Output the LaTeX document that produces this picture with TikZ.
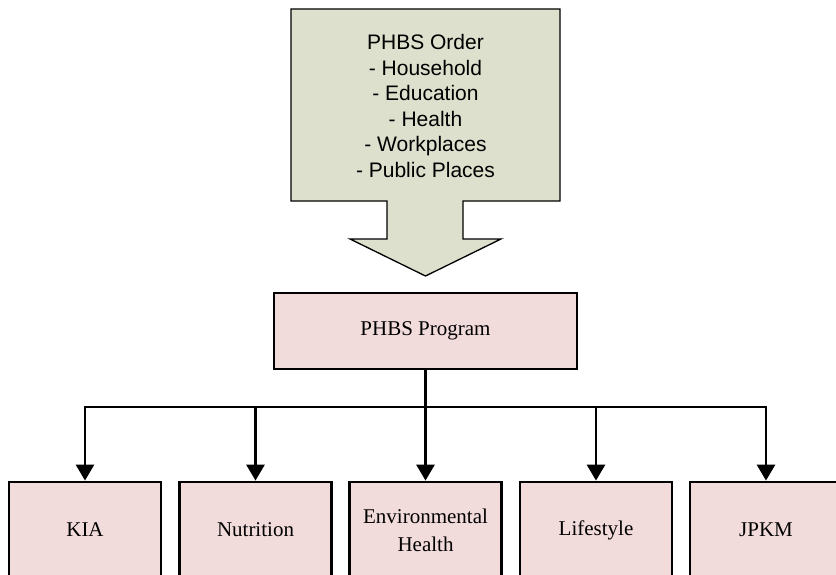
\documentclass[tikz,border=0pt]{standalone}
\usepackage{fontspec}
\setmainfont{Liberation Serif}
\newfontfamily\arialfont{Liberation Sans}
\usetikzlibrary{arrows.meta}
\definecolor{ordergreen}{RGB}{221,224,204}
\definecolor{progpink}{RGB}{242,220,219}
\begin{document}
\begin{tikzpicture}[x=1pt,y=-1pt,
  pbox/.style={draw=black, line width=2.8pt, fill=progpink, minimum width=152pt,
    minimum height=96pt, inner sep=0pt, align=center,
    font=\fontsize{21}{28}\selectfont},
  conn/.style={line width=2.8pt},
  arr/.style={conn, -{Triangle[width=18pt,length=16pt]}},
  ordertext/.style={align=center, font=\arialfont\fontsize{21}{25.5}\selectfont}]
\useasboundingbox (0,0) rectangle (836,574);
\clip (0,0) rectangle (836,574);
% big green block arrow
\draw[fill=ordergreen, line width=1.3pt, line join=miter]
  (291,9) -- (560,9) -- (560,201) -- (463,201) -- (463,239) -- (501,239)
  -- (425.5,276) -- (350,239) -- (387,239) -- (387,201) -- (291,201) -- cycle;
\node[ordertext] (order) at (425.5,106)
  {PHBS Order\\- Household\\- Education\\- Health\\- Workplaces\\- Public Places};
% program box
\node[pbox, minimum width=303pt, minimum height=76pt] (prog) at (425.5,331) {PHBS Program};
% leaf boxes
\node[pbox] (kia) at (85,530) {KIA};
\node[pbox] (nut) at (255.5,530) {Nutrition};
\node[pbox] (env) at (425.5,530) {Environmental\\Health};
\node[pbox] (life) at (596,530) {Lifestyle};
\node[pbox] (jpkm) at (766,530) {JPKM};
% connectors
\coordinate (bar) at (425.5,407);
\draw[conn] (prog.south) -- (prog.south |- bar);
\draw[conn, line cap=rect] (kia.north |- bar) -- (jpkm.north |- bar);
\foreach \b in {kia,nut,env,life,jpkm}
  \draw[arr] (\b.north |- bar) -- (\b.north);
\end{tikzpicture}
\end{document}
